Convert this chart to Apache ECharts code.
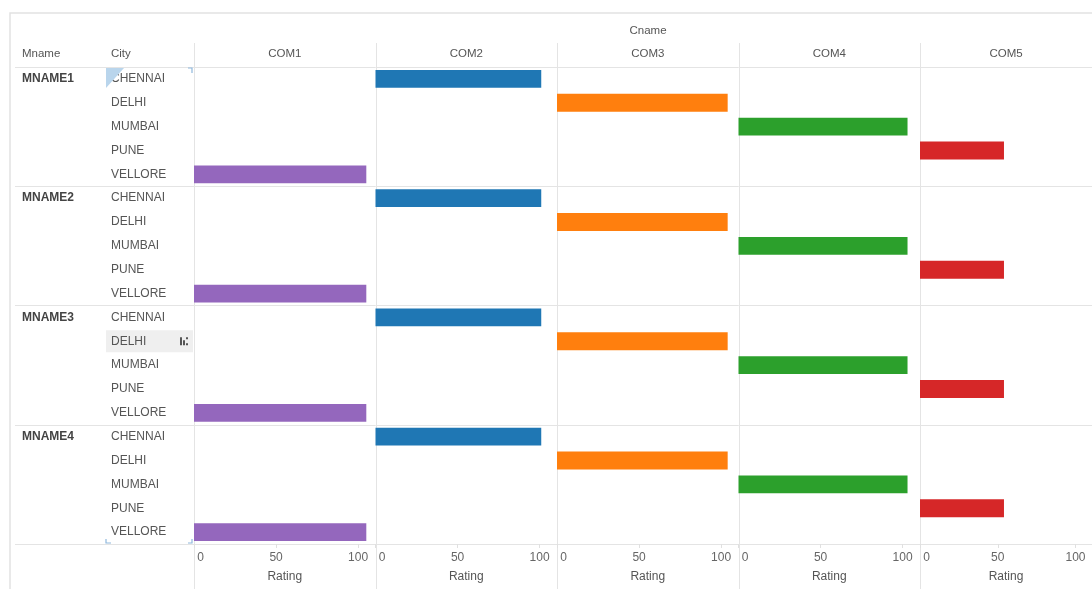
<!DOCTYPE html>
<html><head><meta charset="utf-8">
<script src="https://cdn.jsdelivr.net/npm/echarts@6/dist/echarts.min.js"></script>
<style>html,body{margin:0;padding:0;background:#fff}#c{width:1092px;height:589px}</style>
</head><body><div id="c"></div>
<script>
// ---- data ----
const mnames = ['MNAME1', 'MNAME2', 'MNAME3', 'MNAME4'];
const cities = ['CHENNAI', 'DELHI', 'MUMBAI', 'PUNE', 'VELLORE'];
const cnames = ['COM1', 'COM2', 'COM3', 'COM4', 'COM5'];
// the city that carries a rating in each Cname column
const barCity = ['VELLORE', 'CHENNAI', 'DELHI', 'MUMBAI', 'PUNE'];
// rating per Cname (COM1..COM5) for each Mname
const ratingMNAME1 = [105, 101, 104, 103, 54];
const ratingMNAME2 = [105, 101, 104, 103, 54];
const ratingMNAME3 = [105, 101, 104, 103, 54];
const ratingMNAME4 = [105, 101, 104, 103, 54];
const ratingTicks = [0, 50, 100];
const axisTitle = 'Rating';
const headerTitle = 'Cname';

// ---- build ----
const ratingsByMname = [ratingMNAME1, ratingMNAME2, ratingMNAME3, ratingMNAME4];
const colors = ['#9467bd', '#1f77b4', '#ff7f0e', '#2ca02c', '#d62728'];
const FONT = '"Liberation Sans", Arial, sans-serif';
const rows = [];
mnames.forEach(m => cities.forEach(c => rows.push(m + '|' + c)));

const TOP = 67, BOTTOM = 45, PANEL_LEFT0 = 194, PANEL_W = 181.5, XMAX = 110.6;
const LINE = '#e4e4e4';
const groupSplit = (idx) => idx % cities.length === 0;

const grids = [{ left: 15, width: PANEL_LEFT0 - 15, top: TOP, bottom: BOTTOM }];
cnames.forEach((c, j) => grids.push({ left: PANEL_LEFT0 + j * PANEL_W, width: PANEL_W, top: TOP, bottom: BOTTOM }));

const yAxis = [
  { // city labels
    type: 'category', gridIndex: 0, data: rows, inverse: true, position: 'left',
    axisLine: { show: false }, axisTick: { show: false },
    axisLabel: { inside: true, margin: 96, interval: 0, color: '#555', fontSize: 12, fontFamily: FONT,
      formatter: v => v.split('|')[1] },
    splitLine: { show: true, interval: groupSplit, lineStyle: { color: LINE, width: 1 } }
  },
  { // mname labels
    type: 'category', gridIndex: 0, data: rows, inverse: true, position: 'left',
    axisLine: { show: false }, axisTick: { show: false },
    axisLabel: { inside: true, margin: 7, interval: 0, color: '#444', fontSize: 12, fontWeight: 'bold', fontFamily: FONT,
      formatter: v => { const p = v.split('|'); return p[1] === cities[0] ? p[0] : ''; } },
    splitLine: { show: false }
  }
];
const xAxis = [{ type: 'value', gridIndex: 0, show: false, min: 0, max: 1 }];
const series = [];

cnames.forEach((cn, j) => {
  const g = j + 1;
  yAxis.push({
    type: 'category', gridIndex: g, data: rows, inverse: true,
    axisLine: { show: false }, axisTick: { show: false }, axisLabel: { show: false },
    splitLine: { show: true, interval: groupSplit, lineStyle: { color: LINE, width: 1 } }
  });
  const bottomIdx = xAxis.length;
  xAxis.push({
    type: 'value', gridIndex: g, position: 'bottom', min: 0, max: XMAX,
    axisLine: { show: false },
    axisTick: { show: true, customValues: ratingTicks, length: 4, lineStyle: { color: '#e0e0e0' } },
    axisLabel: { customValues: ratingTicks, alignMinLabel: 'left', color: '#666', fontSize: 12, fontFamily: FONT, margin: 8,
      formatter: v => (v === 0 ? ' 0' : String(v)) },
    splitLine: { show: false },
    name: axisTitle, nameLocation: 'middle', nameGap: 27,
    nameTextStyle: { color: '#555', fontSize: 12, fontFamily: FONT }
  });
  xAxis.push({
    type: 'value', gridIndex: g, position: 'top', min: 0, max: XMAX,
    axisLine: { show: false }, axisTick: { show: false }, axisLabel: { show: false }, splitLine: { show: false },
    name: cn, nameLocation: 'middle', nameGap: 7,
    nameTextStyle: { color: '#555', fontSize: 11.5, fontFamily: FONT }
  });
  series.push({
    type: 'bar', name: cn, xAxisIndex: bottomIdx, yAxisIndex: yAxis.length - 1,
    barWidth: '75%', itemStyle: { color: colors[j] }, silent: true,
    data: rows.map(r => {
      const [m, c] = r.split('|');
      return c === barCity[j] ? ratingsByMname[mnames.indexOf(m)][j] : null;
    })
  });
});

const chart = echarts.init(document.getElementById('c'));
const staticGraphics = [
  { type: 'rect', shape: { x: 10, y: 13, width: 1200, height: 700 }, style: { fill: 'none', stroke: '#e2e2e2', lineWidth: 1.5 }, silent: true },
  { type: 'text', x: 22, y: 54, style: { text: 'Mname', fill: '#555', font: '11.5px ' + FONT, textVerticalAlign: 'middle' } },
  { type: 'text', x: 111, y: 54, style: { text: 'City', fill: '#555', font: '11.5px ' + FONT, textVerticalAlign: 'middle' } },
  { type: 'text', x: 648, y: 31, style: { text: headerTitle, fill: '#555', font: '11.5px ' + FONT, textAlign: 'center', textVerticalAlign: 'middle' } }
];
for (let j = 0; j < cnames.length; j++) {
  const x = Math.round(PANEL_LEFT0 + j * PANEL_W) + 0.5;
  staticGraphics.push({ type: 'line', shape: { x1: x, y1: 43, x2: x, y2: 589 }, style: { stroke: LINE, lineWidth: 1 }, silent: true });
}
chart.setOption({
  animation: false,
  backgroundColor: '#fff',
  grid: grids, xAxis, yAxis, series,
  graphic: staticGraphics
});

// UI artefacts from the screenshot: highlighted row and selection marker
const rowH = (589 - TOP - BOTTOM) / rows.length;
const yDelhi3 = chart.convertToPixel({ yAxisIndex: 0 }, 'MNAME3|DELHI');
const yChennai1 = chart.convertToPixel({ yAxisIndex: 0 }, 'MNAME1|CHENNAI');
const yTop = yChennai1 - rowH / 2;
const yBot = 589 - BOTTOM;
const MARK = '#8fb8dc';
staticGraphics.push(
  { type: 'rect', z: -10, shape: { x: 106, y: yDelhi3 - rowH / 2 + 1, width: 87, height: rowH - 2 }, style: { fill: '#efefef' }, silent: true },
  { type: 'rect', shape: { x: 180, y: yDelhi3 - 4, width: 2, height: 8 }, style: { fill: '#555' } },
  { type: 'rect', shape: { x: 183, y: yDelhi3 - 1, width: 2, height: 5 }, style: { fill: '#555' } },
  { type: 'rect', shape: { x: 186, y: yDelhi3 - 4, width: 2, height: 2 }, style: { fill: '#555' } },
  { type: 'rect', shape: { x: 186, y: yDelhi3 + 2, width: 2, height: 2 }, style: { fill: '#555' } },
  { type: 'polygon', z: 100, shape: { points: [[106, yTop + 1], [124, yTop + 1], [106, yTop + 21]] }, style: { fill: '#b9d5ec' } },
  { type: 'polyline', z: 100, shape: { points: [[188, yTop + 1], [192, yTop + 1], [192, yTop + 6]] }, style: { stroke: MARK, lineWidth: 1.2, fill: null } },
  { type: 'polyline', z: 100, shape: { points: [[106, yBot - 5], [106, yBot - 1], [111, yBot - 1]] }, style: { stroke: MARK, lineWidth: 1.2, fill: null } },
  { type: 'polyline', z: 100, shape: { points: [[188, yBot - 1], [192, yBot - 1], [192, yBot - 5]] }, style: { stroke: MARK, lineWidth: 1.2, fill: null } }
);
chart.setOption({ graphic: staticGraphics });
</script>
</body></html>
